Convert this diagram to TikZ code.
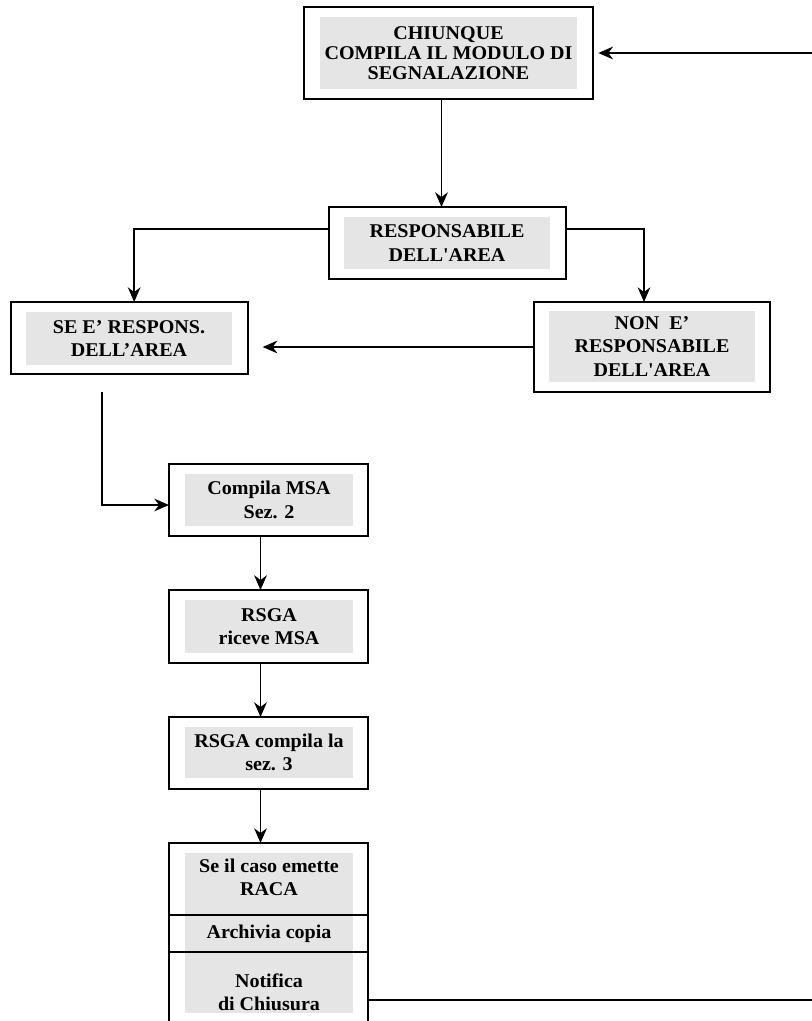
\documentclass[tikz,border=0pt]{standalone}
\usepackage{fontspec}
\setmainfont{Liberation Serif}[FakeStretch=1.03]
\usetikzlibrary{arrows.meta}
\begin{document}
\begin{tikzpicture}[x=0.75pt, y=-0.75pt, every node/.style={font=\bfseries\fontsize{14.6}{17.5}\selectfont}]
  \tikzstyle{frame}=[draw,line width=1.6pt,inner sep=0,outer sep=0]
  \tikzstyle{panel}=[fill=gray!20,inner sep=0,align=center]
  \tikzstyle{link}=[line width=1.2pt,-{Stealth[length=11pt,width=9.5pt,inset=3.5pt]}]
  \useasboundingbox (0,0) rectangle (811,1021);
  % top box
  \node[frame,minimum width=216.75pt,minimum height=69pt] (chiunque) at (448.5,53) {};
  \node[panel,minimum width=192.75pt,minimum height=54pt,font=\bfseries\fontsize{14.6}{15}\selectfont] (chiunqueT) at (448.5,53) {CHIUNQUE\\COMPILA IL MODULO DI\\SEGNALAZIONE};
  % area
  \node[frame,minimum width=177.75pt,minimum height=54pt] (resp) at (447.5,243) {};
  \node[panel,minimum width=154.5pt,minimum height=39pt] (respT) at (447,243) {RESPONSABILE\\DELL\textquotesingle AREA};
  \node[frame,minimum width=177.75pt,minimum height=54pt] (se) at (129.5,338) {};
  \node[panel,minimum width=154.5pt,minimum height=39.75pt] (seT) at (129,338.5) {SE E’ RESPONS.\\DELL’AREA};
  \node[frame,minimum width=177pt,minimum height=67.5pt] (non) at (652,347) {};
  \node[panel,minimum width=154.5pt,minimum height=53.25pt] (nonT) at (652,346.5) {NON\ \ E’\\RESPONSABILE\\DELL\textquotesingle AREA};
  % steps
  \node[frame,minimum width=149.25pt,minimum height=54pt] (compila) at (268.5,500) {};
  \node[panel,minimum width=126pt,minimum height=39pt] (compilaT) at (269,500) {Compila MSA\\Sez. 2};
  \node[frame,minimum width=149.25pt,minimum height=54.75pt] (riceve) at (268.5,626.5) {};
  \node[panel,minimum width=126pt,minimum height=39.75pt] (riceveT) at (269,626.5) {RSGA\\riceve MSA};
  \node[frame,minimum width=149.25pt,minimum height=54pt] (sez) at (268.5,753) {};
  \node[panel,minimum width=126pt,minimum height=38.25pt] (sezT) at (269,752.5) {RSGA compila la\\sez. 3};
  % last box, three parts
  \node[frame,minimum width=149.25pt,minimum height=140.25pt] (fine) at (268.5,936.5) {};
  \node[panel,minimum width=126pt,minimum height=120pt] (fineBg) at (269,933) {};
  \draw[line width=1.6pt] (fine.west |- 0,915) -- (fine.east |- 0,915);
  \draw[line width=1.6pt] (fine.west |- 0,952) -- (fine.east |- 0,952);
  \node[align=center] (raca) at (269,877.5) {Se il caso emette\\RACA};
  \node (archivia) at (269,934) {Archivia copia};
  \node[align=center] (notifica) at (269,992) {Notifica\\di Chiusura};
  % connectors
  \draw[link] ([xshift=-4.5pt]resp.north |- chiunque.south) -- ([xshift=-4.5pt]resp.north);
  \draw[link] ([yshift=10.5pt]resp.west) -| ([xshift=3.5pt]se.north);
  \draw[link] ([yshift=10.5pt]resp.east) -| ([xshift=-6pt]non.north);
  \draw[link,shorten >=11pt] (non.west) -- (non.west -| se.east);
  \draw[link] ([xshift=-20.5pt,yshift=-13.5pt]se.south) |- ([yshift=-3.75pt]compila.west);
  \draw[link] ([xshift=-6pt]compila.south) -- ([xshift=-6pt]riceve.north);
  \draw[link] ([xshift=-6pt]riceve.south) -- ([xshift=-6pt]sez.north);
  \draw[link] ([xshift=-6pt]sez.south) -- ([xshift=-6pt]fine.north);
  \coordinate (ritorno) at (815,1000);
  \draw[link,shorten >=4pt] (fine.east |- ritorno) -- (ritorno) |- (chiunque.east);
\end{tikzpicture}
\end{document}
